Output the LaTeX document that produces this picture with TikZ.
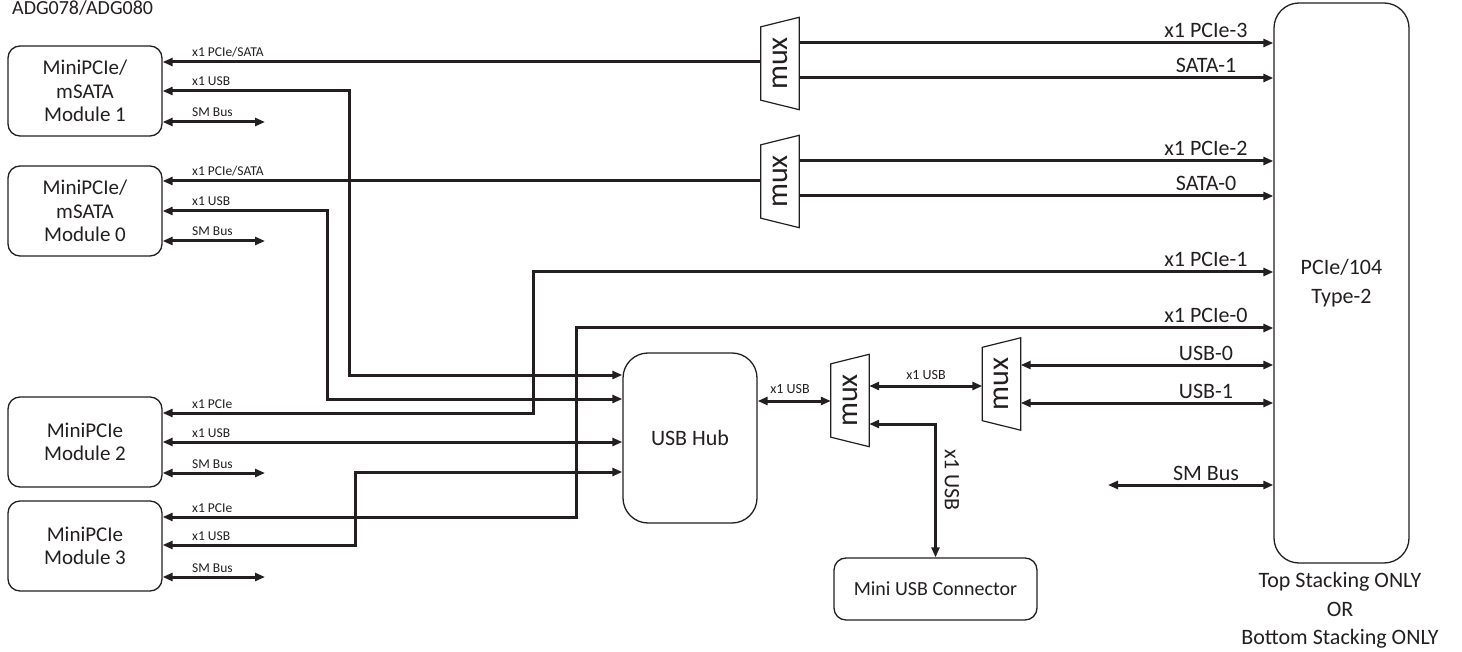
\documentclass[tikz,border=0pt]{standalone}
\usepackage{fontspec}
\setmainfont{Carlito}
\usetikzlibrary{arrows.meta}
\definecolor{ink}{RGB}{35,31,32}
\newcommand\fsSmall{\fontsize{13.5}{15}\selectfont}
\newcommand\fsMid{\fontsize{14}{16}\selectfont}
\newcommand\fsBig{\fontsize{22}{28.5}\selectfont}
\newcommand\fsMod{\fontsize{21}{23.5}\selectfont}
\newcommand\fsMux{\fontsize{30}{32}\selectfont}
\newcommand\fsConn{\fontsize{20}{22}\selectfont}
\newcommand\muxoutline[1]{\draw[muxline] (#1.north east) -- (#1.south east) -- ([yshift=9.5pt]#1.south west) -- ([yshift=-9.5pt]#1.north west) -- cycle;}
\tikzset{
  every node/.style={text=ink, inner sep=0pt},
  box/.style={draw=ink, line width=1.3pt, rounded corners=#1, align=center},
  box/.default=12pt,
  muxnode/.style={minimum width=38pt, minimum height=92pt, label={[rotate=90,font=\fsMux,text=ink]center:mux}},
  muxline/.style={draw=ink, line width=1.2pt, line join=miter},
  wire/.style={draw=ink, line width=3pt},
  >={Triangle[length=10pt,width=8pt]},
  sl/.style={anchor=base west, font=\fsSmall},
  bl/.style={anchor=base, font=\fsBig},
}
\begin{document}
\begin{tikzpicture}[x=1pt,y=-1pt]
\useasboundingbox (0,0) rectangle (1462,652);
\node[anchor=base west, font=\fontsize{20}{24}\selectfont] (title) at (12,15) {ADG078/ADG080};

% modules
\node[box, minimum width=154pt, minimum height=90pt, font=\fsMod] (m1) at (85,91) {MiniPCIe/\\mSATA\\Module 1};
\node[box, minimum width=154pt, minimum height=90pt, font=\fsMod] (m0) at (85,211) {MiniPCIe/\\mSATA\\Module 0};
\node[box, minimum width=154pt, minimum height=90pt, font=\fsMod] (m2) at (85,442) {MiniPCIe\\Module 2};
\node[box, minimum width=154pt, minimum height=90pt, font=\fsMod] (m3) at (85,546) {MiniPCIe\\Module 3};

% big boxes
\node[box=25pt, minimum width=135pt, minimum height=560pt, font=\fsBig] (pcie) at (1341.5,283) {PCIe/104\\Type-2};
\node[box=25pt, minimum width=134pt, minimum height=170pt, font=\fsBig] (hub) at (690,438) {USB Hub};
\node[box, minimum width=203pt, minimum height=62pt, font=\fsConn] (conn) at (935.5,589) {Mini USB Connector};

% muxes
\node[muxnode] (mux1) at (780,63.5) {};
\node[muxnode] (mux2) at (780,181.5) {};
\node[muxnode] (mux3) at (850,400.5) {};
\node[muxnode] (mux4) at (1001.5,384) {};
\muxoutline{mux1}
\muxoutline{mux2}
\muxoutline{mux3}
\muxoutline{mux4}

% free ends of SM Bus arrows
\coordinate (s1) at (265,122);
\coordinate (s0) at (265,241);
\coordinate (s2) at (265,473);
\coordinate (s3) at (265,577);
\coordinate (sp) at (1108,485);

% module 1
\draw[wire,->] (mux1.west |- 0,62) -- (m1.east |- 0,62);
\draw[wire,<->] (m1.east |- 0,91) -| (349,375) -- (hub.west |- 0,375);
\draw[wire,<->] (m1.east |- 0,122) -- (s1);
\node[sl] (l1a) at (192,57) {x1 PCIe/SATA};
\node[sl] (l1b) at (192,86) {x1 USB};
\node[sl] (l1c) at (192,117) {SM Bus};

% module 0
\draw[wire,->] (mux2.west |- 0,181) -- (m0.east |- 0,181);
\draw[wire,<->] (m0.east |- 0,211) -| (327,399) -- (hub.west |- 0,399);
\draw[wire,<->] (m0.east |- 0,241) -- (s0);
\node[sl] (l0a) at (192,176) {x1 PCIe/SATA};
\node[sl] (l0b) at (192,206) {x1 USB};
\node[sl] (l0c) at (192,236) {SM Bus};

% module 2
\draw[wire,<->] (m2.east |- 0,413) -| (533,272) -- (pcie.west |- 0,272);
\draw[wire,<->] (m2.east |- 0,442) -- (hub.west |- 0,442);
\draw[wire,<->] (m2.east |- 0,473) -- (s2);
\node[sl] (l2a) at (192,408) {x1 PCIe};
\node[sl] (l2b) at (192,437) {x1 USB};
\node[sl] (l2c) at (192,468) {SM Bus};

% module 3
\draw[wire,<->] (m3.east |- 0,517) -| (576,328) -- (pcie.west |- 0,328);
\draw[wire,<->] (m3.east |- 0,545) -| (355,472) -- (hub.west |- 0,472);
\draw[wire,<->] (m3.east |- 0,577) -- (s3);
\node[sl] (l3a) at (192,512) {x1 PCIe};
\node[sl] (l3b) at (192,540) {x1 USB};
\node[sl] (l3c) at (192,572) {SM Bus};

% mux outputs to PCIe/104
\draw[wire,->] (mux1.east |- 0,43) -- (pcie.west |- 0,43);
\draw[wire,->] (mux1.east |- 0,78) -- (pcie.west |- 0,78);
\draw[wire,->] (mux2.east |- 0,161) -- (pcie.west |- 0,161);
\draw[wire,->] (mux2.east |- 0,196) -- (pcie.west |- 0,196);

% USB chain
\draw[wire,<->] (hub.east |- 0,401) -- (mux3.west |- 0,401);
\draw[wire,<->] (mux3.east |- 0,386) -- (mux4.west |- 0,386);
\draw[wire,<->] (mux4.east |- 0,365) -- (pcie.west |- 0,365);
\draw[wire,<->] (mux4.east |- 0,403) -- (pcie.west |- 0,403);
\draw[wire,<->] (mux3.east |- 0,424) -| (conn.north);
\draw[wire,<->] (sp) -- (pcie.west |- 0,485);
\node[anchor=base, font=\fsMid] (lh) at (790,393) {x1 USB};
\node[anchor=base, font=\fsMid] (lm) at (926,379) {x1 USB};
\node[rotate=-90, font=\fsBig] (lv) at (952,480) {x1 USB};

% right labels
\node[bl] (r1) at (1206,38) {x1 PCIe-3};
\node[bl] (r2) at (1206,73) {SATA-1};
\node[bl] (r3) at (1206,156) {x1 PCIe-2};
\node[bl] (r4) at (1206,191) {SATA-0};
\node[bl] (r5) at (1206,267) {x1 PCIe-1};
\node[bl] (r6) at (1206,323) {x1 PCIe-0};
\node[bl] (r7) at (1206,360) {USB-0};
\node[bl] (r8) at (1206,398) {USB-1};
\node[bl] (r9) at (1206,480) {SM Bus};

% stacking note
\node[bl] (n1) at (1340,587) {Top Stacking ONLY};
\node[bl] (n2) at (1340,616) {OR};
\node[bl] (n3) at (1340,644) {Bottom Stacking ONLY};
\end{tikzpicture}
\end{document}
